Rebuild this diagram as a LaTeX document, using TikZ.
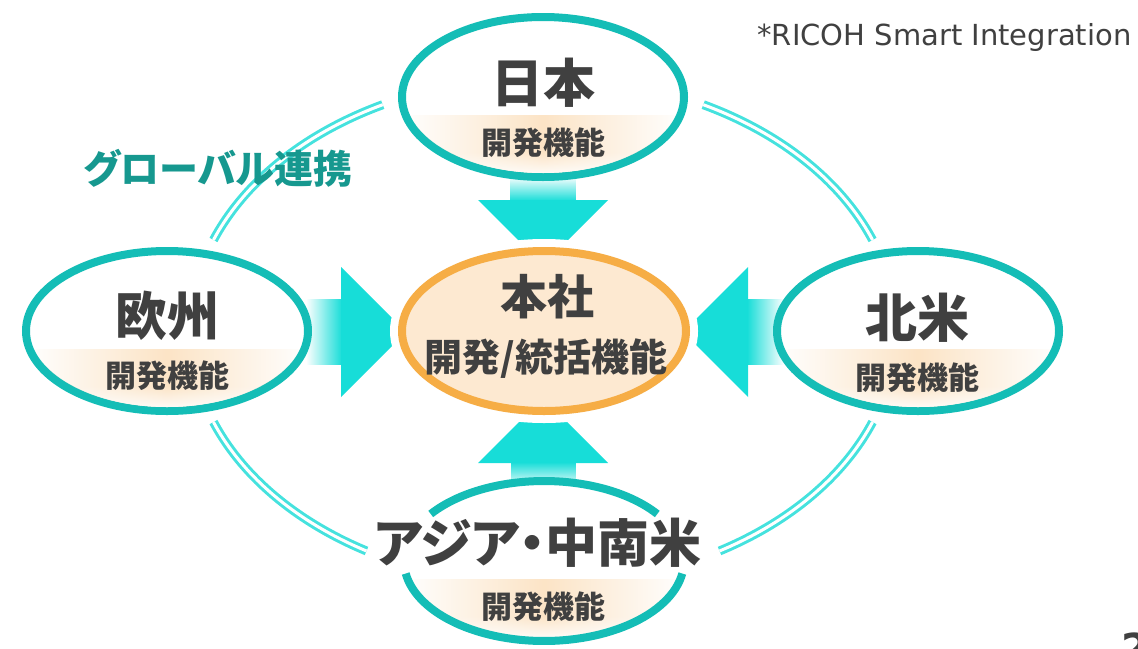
\documentclass[tikz,border=0pt]{standalone}
\usepackage{fontspec}
\newfontfamily\jp{Noto Sans CJK JP}
\newfontfamily\jpp{Noto Sans CJK JP}[RawFeature=+palt]
\newfontfamily\dv{DejaVu Sans}
\usetikzlibrary{shapes.geometric,fadings}
\definecolor{tealE}{HTML}{14BDB6}
\definecolor{cyanA}{HTML}{17DDD8}
\definecolor{arcC}{HTML}{45E2DE}
\definecolor{orangeC}{HTML}{F6AD45}
\definecolor{peach}{HTML}{FDE9D1}
\definecolor{bandC}{HTML}{FCE4C6}
\definecolor{txt}{HTML}{404040}
\definecolor{gtxt}{HTML}{16988F}
\tikzfading[name=fadetop, top color=transparent!100, middle color=transparent!0, bottom color=transparent!0]
\tikzfading[name=fadebottom, top color=transparent!0, middle color=transparent!0, bottom color=transparent!100]
\tikzfading[name=fadeleft, left color=transparent!100, middle color=transparent!0, right color=transparent!0]
\tikzfading[name=faderight, left color=transparent!0, middle color=transparent!0, right color=transparent!100]
\tikzfading[name=fadesides, left color=transparent!100, right color=transparent!100, middle color=transparent!0]
\tikzfading[name=fadesoft, top color=transparent!100, bottom color=transparent!0]
\tikzset{
  region/.style={ellipse, draw=tealE, line width=4pt, fill=white, minimum width=141pt, minimum height=80pt, inner sep=0pt},
  hqbox/.style={ellipse, draw=orangeC, line width=4pt, fill=peach, minimum width=142pt, minimum height=80pt, inner sep=0pt,
     preaction={draw=white, line width=12pt}},
  big/.style={font=\jp\bfseries\fontsize{26}{30}\selectfont, text=txt, inner sep=0pt},
  sub/.style={font=\jp\bfseries\fontsize{15.5}{18}\selectfont, text=txt, inner sep=0pt},
  link/.style={draw=arcC, line width=1.5pt, double=white, double distance=1.5pt},
  headshape/.style={fill=cyanA},
  band/.style={fill=bandC, path fading=fadesides},
  bandfade/.style={fill=white, path fading=fadesoft},
  rim/.style={draw=tealE, line width=4pt},
}
\begin{document}
\begin{tikzpicture}[x=0.5pt, y=-0.5pt]
\useasboundingbox (0,0) rectangle (1138,648);
% global links
\draw[link] plot[domain=201:243, samples=40] ({543+353*cos(\x)},{331+254*sin(\x)});
\draw[link] plot[domain=297:339, samples=40] ({543+353*cos(\x)},{331+254*sin(\x)});
\draw[link] plot[domain=21:60, samples=40] ({543+353*cos(\x)},{331+254*sin(\x)});
\draw[link] plot[domain=120:159, samples=40] ({543+353*cos(\x)},{331+254*sin(\x)});
% arrows
\fill[headshape] (478,200) -- (608,200) -- (543,265) -- cycle;
\fill[cyanA, path fading=fadetop] (510,176) rectangle (576,201);
\fill[headshape] (478,463) -- (608,463) -- (543,398) -- cycle;
\fill[cyanA, path fading=fadebottom] (511,462) rectangle (576,488);
\fill[headshape] (341,267) -- (341,397) -- (406,332) -- cycle;
\fill[cyanA, path fading=fadeleft] (306,299) rectangle (342,365);
\fill[headshape] (748,267) -- (748,397) -- (683,332) -- cycle;
\fill[cyanA, path fading=faderight] (747,299) rectangle (784,365);
% ellipses
\node[region] (jp) at (543,97) {};
\node[region] (eu) at (167,331) {};
\node[region] (na) at (918,331) {};
\node[region, draw=none] (as) at (544,561) {};
\node[hqbox] (hq) at (544,331) {};
% bands
\foreach \n in {jp,eu,na,as}{
  \begin{scope}
    \clip (\n.center) ellipse [x radius=137, y radius=76];
    \fill[band] ([shift={(-140,18)}]\n.center) rectangle ([shift={(140,80)}]\n.center);
    \fill[bandfade] ([shift={(-140,55)}]\n.center) rectangle ([shift={(140,80)}]\n.center);
  \end{scope}
}
% rim of the lower region, broken where its title crosses it
\draw[rim] plot[domain=216:324, samples=50] ({544+140*cos(\x)},{561+80*sin(\x)});
\draw[rim] plot[domain=9:171, samples=60] ({544+140*cos(\x)},{561+80*sin(\x)});
% texts
\node[big] (jpt) at (543,83) {日本};
\node[sub] (jps) at (543,143) {開発機能};
\node[big] (eut) at (167,316) {欧州};
\node[sub] (eus) at (167,376) {開発機能};
\node[big] (nat) at (917,318) {北米};
\node[sub] (nas) at (917,378) {開発機能};
\node[font=\jp\bfseries\fontsize{23.5}{28}\selectfont, text=txt, inner sep=0pt] (hqt) at (547,297) {本社};
\node[font=\jp\bfseries\fontsize{19}{23}\selectfont, text=txt, inner sep=0pt] (hqs) at (546,359) {開発/統括機能};
\node[font=\jpp\bfseries\fontsize{26}{30}\selectfont, text=txt, inner sep=0pt] (ast) at (538,543) {アジア・中南米};
\node[sub] (ass) at (543,607) {開発機能};
\node[font=\jpp\bfseries\fontsize{19.5}{24}\selectfont, text=gtxt, inner sep=0pt] (gl) at (218,168) {グローバル連携};
\node[font=\dv\fontsize{14.5}{17}\selectfont, text=txt, inner sep=0pt, anchor=base west] (ri) at (757,45) {*RICOH Smart Integration};
\node[font=\dv\bfseries\fontsize{20}{24}\selectfont, text=txt, inner sep=0pt, anchor=north west] (pg) at (1121,632) {2};
\end{tikzpicture}
\end{document}
